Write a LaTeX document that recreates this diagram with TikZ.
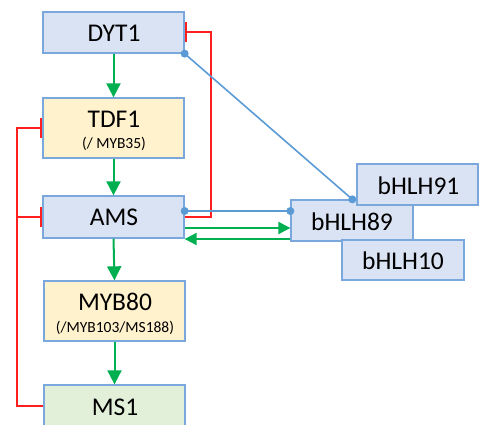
\documentclass[tikz,border=0pt]{standalone}
\usepackage{fontspec}
\setmainfont{Carlito}
\usetikzlibrary{arrows.meta,calc}

\definecolor{bluefill}{HTML}{DAE3F3}
\definecolor{yellowfill}{HTML}{FFF2CC}
\definecolor{greenfill}{HTML}{E2F0D9}
\definecolor{boxline}{HTML}{7AA7DC}
\definecolor{inhred}{HTML}{FF1F1F}
\definecolor{actgreen}{HTML}{00B050}
\definecolor{linkblue}{HTML}{5B9BD5}

\tikzset{
  gene/.style={draw=boxline, line width=1.3pt, minimum width=141pt, inner sep=0pt, anchor=center},
  big/.style={font=\fontsize{25.5}{27}\selectfont, anchor=base, inner sep=0pt},
  sub/.style={font=\fontsize{15.5}{17}\selectfont, anchor=base, inner sep=0pt},
  act/.style={draw=actgreen, line width=2pt, -{Triangle[length=14pt,width=14pt]}},
  acth/.style={draw=actgreen, line width=2pt, -{Triangle[length=12pt,width=12pt]}},
  inhib/.style={draw=inhred, line width=2pt, -{Bar[width=20pt]}},
  link/.style={draw=linkblue, line width=1.6pt},
  dot/.style={fill=linkblue}
}

\begin{document}
\begin{tikzpicture}[x=1pt, y=-1pt]
\useasboundingbox (0,0) rectangle (479,425);
\clip (0,0) rectangle (479,425);

% main cascade
\node[gene, fill=bluefill, minimum height=41pt] (dyt1) at (113.5,32.5) {};
\node[big] (dyt1t) at (114,41.5) {DYT1};

\node[gene, fill=yellowfill, minimum height=60pt] (tdf1) at (113.5,128) {};
\node[big] (tdf1t) at (114,128) {TDF1};
\node[sub] (tdf1s) at (114,148) {(/ MYB35)};

\node[gene, fill=bluefill, minimum height=42pt] (ams) at (113.5,217) {};
\node[big] (amst) at (114,225) {AMS};

\node[gene, fill=yellowfill, minimum height=60pt] (myb80) at (114.5,311) {};
\node[big] (myb80t) at (115,310.5) {MYB80};
\node[sub] (myb80s) at (115,332.5) {(/MYB103/MS188)};

\node[gene, fill=greenfill, minimum height=42pt] (ms1) at (114.5,406) {};
\node[big] (ms1t) at (115,415) {MS1};

% bHLH partners
\node[gene, fill=bluefill, minimum width=122pt, minimum height=41pt] (b89) at (352,220.5) {};
\node[big] (b89t) at (352,230) {bHLH89};
\node[gene, fill=bluefill, minimum width=121pt, minimum height=41pt] (b91) at (417.5,184.5) {};
\node[big] (b91t) at (418.5,194) {bHLH91};
\node[gene, fill=bluefill, minimum width=122pt, minimum height=40pt] (b10) at (403,260) {};
\node[big] (b10t) at (403,269) {bHLH10};

% helper coordinates
\coordinate (rx) at (211,0);
\coordinate (lx) at (17,0);
\coordinate (amsdot) at ($(ams.east)+(0,-6)$);
\coordinate (b89dotl) at ($(b89.west)+(0,-9.5)$);
\coordinate (b89dott) at ($(b89.north west)+(62,0)$);
\coordinate (amsout) at ($(ams.east)+(0,11)$);
\coordinate (b89out) at ($(b89.west)+(0,18.5)$);

% activation along the cascade
\draw[act] (dyt1.south) -- (tdf1.north);
\draw[act] (tdf1.south) -- (ams.north);
\draw[act] (ams.south) -- (myb80.north);
\draw[act] (myb80.south) -- (ms1.north);

% feedback repression
\draw[inhib] (ams.east) -- (ams.east -| rx) |- (dyt1.east);
\draw[inhib] (ms1.west) -- (ms1.west -| lx) |- (tdf1.west);
\draw[inhib] (ams.west -| lx) -- (ams.west);

% AMS / bHLH89 exchange
\draw[acth] (amsout) -- (amsout -| b89.west);
\draw[acth] (b89out) -- (b89out -| ams.east);

% protein interactions
\draw[link] (dyt1.south east) -- (b89dott);
\draw[link] (amsdot) -- (b89dotl);
\fill[dot] (dyt1.south east) circle (4pt);
\fill[dot] (b89dott) circle (4pt);
\fill[dot] (amsdot) circle (4pt);
\fill[dot] (b89dotl) circle (4pt);
\end{tikzpicture}
\end{document}
